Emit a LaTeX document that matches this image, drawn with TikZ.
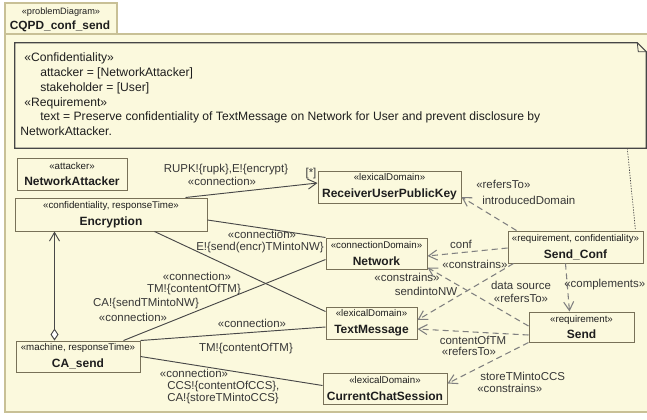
\documentclass[tikz,border=0pt]{standalone}
\usepackage{fontspec}
\setmainfont{Liberation Sans}
\usetikzlibrary{arrows.meta,calc}
\definecolor{bg}{RGB}{251,249,221}
\definecolor{frameC}{RGB}{200,192,150}
\definecolor{boxline}{RGB}{120,113,88}
\definecolor{noteline}{RGB}{70,70,70}
\definecolor{lineC}{RGB}{72,72,72}
\definecolor{dashC}{RGB}{128,128,128}
\definecolor{txt}{RGB}{30,30,30}
\definecolor{ltxt}{RGB}{55,55,55}
\newcommand\stf{\fontsize{7.3}{8.6}\selectfont}
\newcommand\nmf{\fontsize{9}{10.5}\selectfont\bfseries}
\newcommand\lbf{\fontsize{8.6}{10}\selectfont}
\newcommand\ntf{\fontsize{9.1}{11}\selectfont}
\newcommand\umlbox[7]{%
  \pgfmathsetmacro\bcx{(#2+#4)/2}\pgfmathsetmacro\bcy{(#3+#5)/2}%
  \pgfmathsetmacro\bw{(#4-#2)*0.75}\pgfmathsetmacro\bh{(#5-#3)*0.75}%
  \node[box, minimum width=\bw pt, minimum height=\bh pt] (#1) at (\bcx,\bcy) {{\stf #6}\\[0.6pt]{\nmf #7}};}
\tikzset{
  box/.style={draw=boxline, fill=bg, line width=0.75pt, inner sep=0pt, align=center, text=txt},
  lbl/.style={font=\lbf, text=ltxt, inner sep=0pt, text height=6.3pt, text depth=1.8pt},
  notetxt/.style={font=\ntf, text=txt, inner sep=0pt, anchor=west, text height=6.6pt, text depth=1.9pt},
  solidc/.style={draw=lineC, line width=0.7pt},
  dashc/.style={draw=dashC, line width=0.8pt, dash pattern=on 4.5pt off 3pt},
  openarr/.style={-{Straight Barb[length=6.5pt,width=7.5pt]}},
}
\begin{document}
\begin{tikzpicture}[x=0.75pt,y=-0.75pt]
\useasboundingbox (0,0) rectangle (647,419);
\fill[white] (0,0) rectangle (647,419);
% frame
\fill[bg] (5,34) rectangle (647,412);
\draw[frameC, line width=0.9pt] (647,34) -- (5,34) -- (5,412) -- (647,412);
\node[draw=frameC, fill=bg, line width=0.9pt, minimum width=84pt, minimum height=23.25pt, inner sep=0pt] (tab) at (61,18.5) {};
\node[inner sep=0pt, font=\fontsize{6.9}{8}\selectfont, text=txt] (tabst) at (61,12) {«problemDiagram»};
\node[inner sep=0pt, font=\fontsize{8.9}{10}\selectfont\bfseries, text=txt] (tabname) at (60,26) {CQPD\_conf\_send};
% note
\node[fill=bg, draw=none, minimum width=473.25pt, minimum height=78.75pt, inner sep=0pt] (note) at (330.5,95.5) {};
\draw[noteline, line width=0.8pt] (note.north west) -- ($(note.north east)+(-9,0)$) -- ($(note.north east)+(0,9)$) -- (note.south east) -- (note.south west) -- cycle;
\draw[noteline, line width=0.6pt] ($(note.north east)+(-9,0)$) -- ($(note.north east)+(-8,9)$) -- ($(note.north east)+(0,9)$);
\node[notetxt] (n1) at (24,58) {«Confidentiality»};
\node[notetxt] (n2) at (40,73) {attacker = [NetworkAttacker]};
\node[notetxt] (n3) at (40,88) {stakeholder = [User]};
\node[notetxt] (n4) at (24,103) {«Requirement»};
\node[notetxt] (n5) at (40,117.5) {text = Preserve confidentiality of TextMessage on Network for User and prevent disclosure by};
\node[notetxt] (n6) at (20,132) {NetworkAttacker.};
% boxes
\umlbox{na}{17}{158}{127}{190}{«attacker»}{NetworkAttacker}
\umlbox{enc}{15}{198}{207}{231}{«confidentiality, responseTime»}{Encryption}
\umlbox{rupk}{318}{171}{461}{203}{«lexicalDomain»}{ReceiverUserPublicKey}
\umlbox{net}{326}{238}{427}{269}{«connectionDomain»}{Network}
\umlbox{sc}{508}{231}{643}{263}{«requirement, confidentiality»}{Send\_Conf}
\umlbox{tm}{326}{307}{417}{339}{«lexicalDomain»}{TextMessage}
\umlbox{send}{529}{312}{634}{342}{«requirement»}{Send}
\umlbox{ca}{16}{341}{140}{372}{«machine, responseTime»}{CA\_send}
\umlbox{ccs}{323}{373}{447}{404}{«lexicalDomain»}{CurrentChatSession}
% solid connectors
\draw[solidc, openarr] ($(enc.north east)+(-22,0)$) -- ($(rupk.west)+(0,-4)$);
\draw[solidc] ($(enc.east)+(0,5.5)$) -- (net.north west);
\draw[solidc] ($(enc.south west)+(140,0)$) -- ($(tm.north west)+(0,5)$);
\draw[solidc] ($(ca.north east)+(-17,0)$) -- ($(net.west)+(0,6)$);
\draw[solidc] (ca.north east) -- ($(tm.west)+(0,4)$);
\draw[solidc] (ca.east) -- ($(ccs.west)+(0,-3)$);
\draw[solidc, {Diamond[fill=white,length=9pt,width=6pt]}-{Straight Barb[length=6.5pt,width=7.5pt]}] ($(ca.north west)+(39,0)$) -- ($(enc.south west)+(40,0)$);
% dashed connectors
\draw[dashc, openarr] ($(sc.north west)+(9,0)$) -- ($(rupk.east)+(0,10)$);
\draw[dashc, openarr] ($(sc.west)+(0,1)$) -- ($(net.east)+(0,2.5)$);
\draw[dashc, openarr] ($(sc.south west)+(6,0)$) -- ($(tm.east)+(0,-3)$);
\draw[dashc, openarr] ($(send.west)+(0,-1)$) -- ($(net.south east)+(0,-2)$);
\draw[dashc, openarr] ($(send.west)+(0,8)$) -- ($(tm.east)+(0,6)$);
\draw[dashc, openarr] (send.south west) -- ($(ccs.east)+(0,-5)$);
\draw[dashc, openarr] ($(sc.south)+(-10,0)$) -- ($(send.north)+(-12,0)$);
\draw[noteline, line width=0.5pt, dash pattern=on 1pt off 1pt] ($(note.south east)+(-19,0)$) -- ($(sc.north east)+(-8,0)$);
% labels
\node[lbl] (l1) at (226,169) {RUPK!\{rupk\},E!\{encrypt\}};
\node[lbl] (l2) at (222,182) {«connection»};
\node[lbl] (l3) at (311,173) {[*]};
\node[lbl] (l4) at (262,235) {«connection»};
\node[lbl] (l5) at (260,247.5) {E!\{send(encr)TMintoNW\}};
\node[lbl] (l6) at (197,277) {«connection»};
\node[lbl] (l7) at (194,289) {TM!\{contentOfTM\}};
\node[lbl] (l8) at (146,303) {CA!\{sendTMintoNW\}};
\node[lbl] (l9) at (133,318) {«connection»};
\node[lbl] (l10) at (252,324) {«connection»};
\node[lbl] (l11) at (246,348) {TM!\{contentOfTM\}};
\node[lbl] (l12) at (194,374) {«connection»};
\node[lbl, anchor=west] (l13) at (167,386) {CCS!\{contentOfCCS\},};
\node[lbl, anchor=west] (l14) at (167,398) {CA!\{storeTMintoCCS\}};
\node[lbl, anchor=west] (l15) at (476,185) {«refersTo»};
\node[lbl, anchor=west] (l16) at (482,201) {introducedDomain};
\node[lbl] (l17) at (461,245) {conf};
\node[lbl] (l18) at (475,265) {«constrains»};
\node[lbl] (l19) at (407,278) {«constrains»};
\node[lbl] (l20) at (426,292) {sendintoNW};
\node[lbl] (l21) at (521,286) {data source};
\node[lbl] (l22) at (521,299) {«refersTo»};
\node[lbl, anchor=west] (l23) at (564,284) {«complements»};
\node[lbl] (l24) at (473,341) {contentOfTM};
\node[lbl] (l25) at (469,352) {«refersTo»};
\node[lbl, anchor=west] (l26) at (480,377) {storeTMintoCCS};
\node[lbl, anchor=west] (l27) at (477,389) {«constrains»};
\end{tikzpicture}
\end{document}
